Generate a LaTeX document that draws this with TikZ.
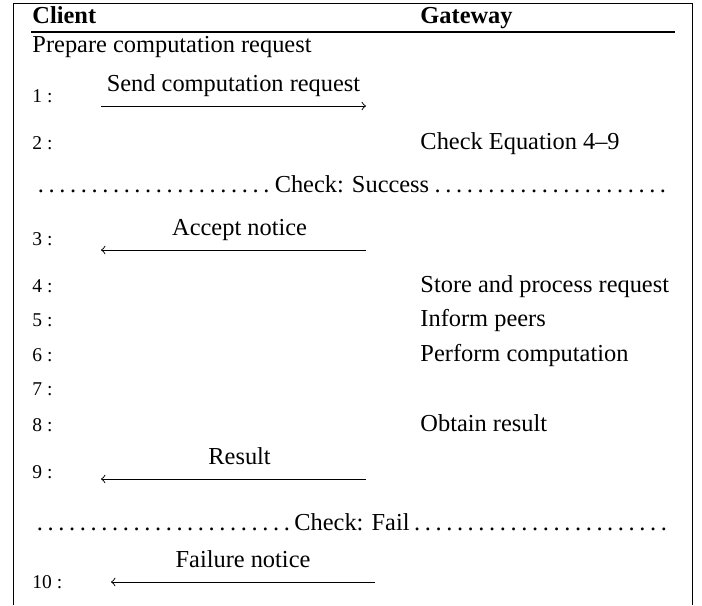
\documentclass[tikz,border=0pt]{standalone}
\usepackage{fontspec}
\setmainfont{Liberation Serif}
\frenchspacing
\begin{document}
\begin{tikzpicture}[x=0.41pt,y=-0.41pt,
  num/.style={anchor=base west,inner sep=0pt,font=\footnotesize},
  txt/.style={anchor=base west,inner sep=0pt},
  msg/.style={midway,anchor=base,inner sep=0pt,yshift=5.8pt},
  sep/.style={anchor=base west,inner sep=0pt,text width=262pt,align=left}]
\useasboundingbox (0,0) rectangle (702,605);
% le cadre, ouvert en bas
\draw (13.5,605) -- (13.5,3) -- (692,3) -- (692,605);
% en-tete
\node[txt,font=\bfseries] (client) at (32,23) {Client};
\node[txt,font=\bfseries] (gateway) at (420,23) {Gateway};
\coordinate (hl) at (31,32);
\coordinate (hr) at (675,32);
\draw[line width=0.5pt] (hl) -- (hr);
\node[txt] (prep) at (32,52) {Prepare computation request};
% numeros de ligne
\foreach \n/\y in {1/102,2/149,3/245,4/292,5/326,6/361,7/395,8/431,9/478,10/588}
  \node[num] (n\n) at (32,\y) {\n\ :};
% actions du Gateway
\node[txt] (eq) at (420,149) {Check Equation 4--9};
\node[txt] (store) at (420,292) {Store and process request};
\node[txt] (inform) at (420,326) {Inform peers};
\node[txt] (perform) at (420,361) {Perform computation};
\node[txt] (obtain) at (420,431) {Obtain result};
% les separateurs pointilles
\node[sep] (ok) at (32,192) {\dotfill Check: Success\dotfill\null};
\node[sep] (fail) at (32,530) {\dotfill Check: Fail\dotfill\null};
% les messages
\coordinate (c1) at (101,106); \coordinate (g1) at (366,106);
\draw[->] (c1) -- node[msg] (m1) {Send computation request} (g1);
\coordinate (c3) at (101,250); \coordinate (g3) at (366,250);
\draw[->] (g3) -- node[msg,xshift=2.5pt] (m3) {Accept notice} (c3);
\coordinate (c9) at (101,479); \coordinate (g9) at (366,479);
\draw[->] (g9) -- node[msg,xshift=2.5pt] (m9) {Result} (c9);
\coordinate (c10) at (111,582); \coordinate (g10) at (375,582);
\draw[->] (g10) -- node[msg] (m10) {Failure notice} (c10);
\end{tikzpicture}
\end{document}
